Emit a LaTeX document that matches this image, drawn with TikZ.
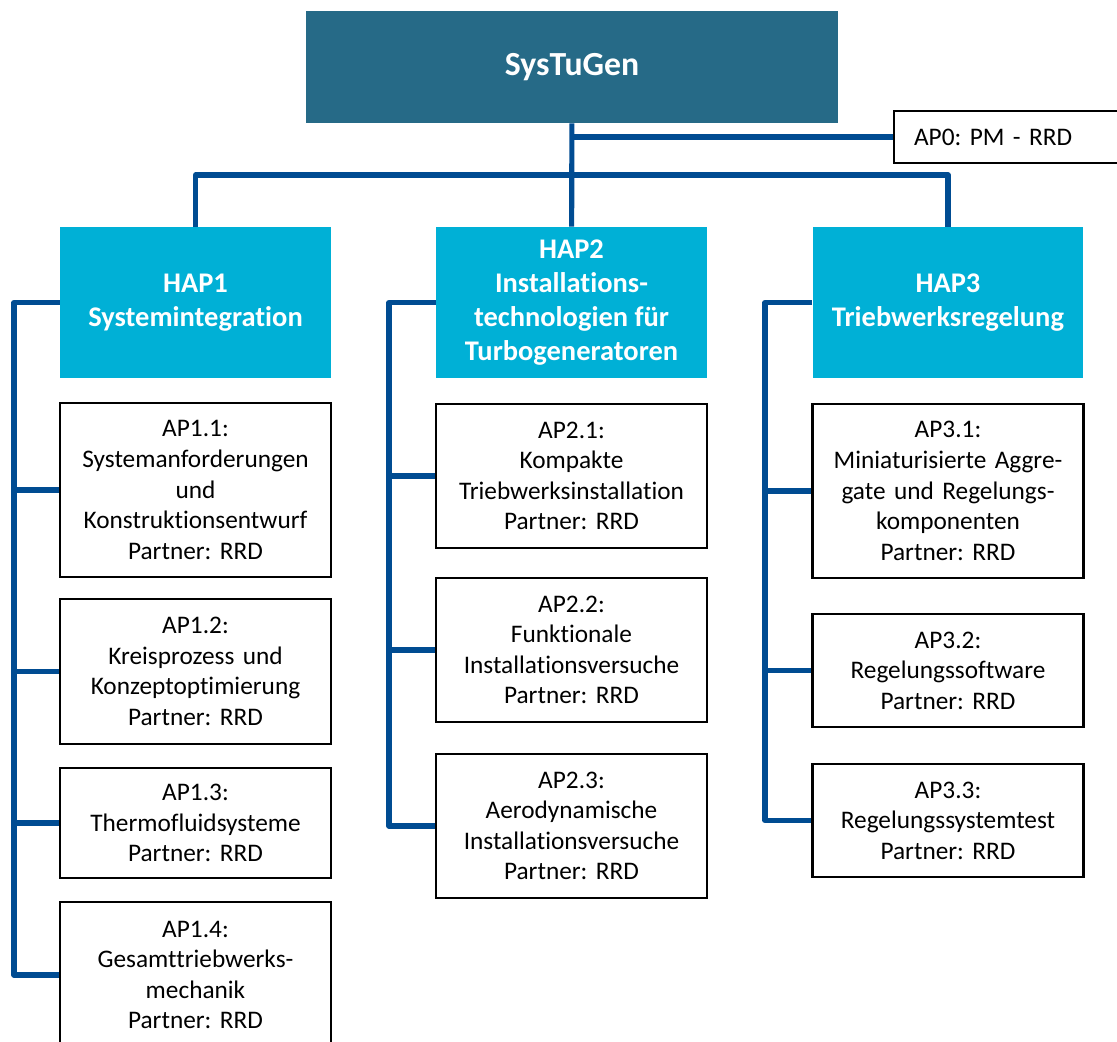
\documentclass[tikz,border=0pt]{standalone}
\usepackage{fontspec}
\setmainfont{Carlito}[Ligatures=NoCommon]
\usepackage{tikz}
\frenchspacing

\definecolor{sysdark}{RGB}{38,106,135}
\definecolor{hapcyan}{RGB}{0,176,214}
\definecolor{linkblue}{RGB}{0,76,146}

\tikzset{
	sysbox/.style={fill=sysdark, text=white, font=\bfseries\fontsize{19.2}{23}\selectfont, minimum width=10.64cm, minimum height=2.24cm},
	hapbox/.style={fill=hapcyan, text=white, font=\bfseries\fontsize{16.2}{19.2}\selectfont, align=center, minimum width=5.42cm, minimum height=3.02cm},
	apbox/.style={draw=black, line width=1.2pt, fill=white, font=\fontsize{14.4}{17.4}\selectfont, align=center, inner xsep=0.16cm, text width=5.1cm},
	link/.style={draw=linkblue, line width=2.9pt, line join=round}
}

\begin{document}
\begin{tikzpicture}[x=0.02cm, y=-0.02cm]
			\useasboundingbox (0,0) rectangle (1117,1042);
			% Nodes
			\node[sysbox] (sys) at (572,67) {SysTuGen};
			\node[apbox, anchor=west, align=left, inner xsep=0.4cm, text width=4.14cm, minimum height=1.04cm] (ap0) at (893,137) {AP0: PM - RRD};
			\node[hapbox] (hap1) at (195.5,302.5) {HAP1\\Systemintegration};
			\node[hapbox] (hap2) at (571.5,302.5) {HAP2\\Installations-\\technologien für\\Turbogeneratoren};
			\node[hapbox] (hap3) at (948,302.5) {HAP3\\Triebwerksregelung};
			% HAP1
			\node[apbox, minimum height=3.48cm] (ap11) at (195.5,490) {AP1.1:\\Systemanforderungen\\und\\Konstruktionsentwurf\\Partner: RRD};
			\node[apbox, minimum height=2.9cm] (ap12) at (195.5,671.5) {AP1.2:\\Kreisprozess und\\Konzeptoptimierung\\Partner: RRD};
			\node[apbox, minimum height=2.2cm] (ap13) at (195.5,823) {AP1.3:\\Thermofluidsysteme\\Partner: RRD};
			\node[apbox, minimum height=2.92cm] (ap14) at (195.5,975) {AP1.4:\\Gesamttriebwerks-\\mechanik\\Partner: RRD};
			% HAP2
			\node[apbox, minimum height=2.88cm] (ap21) at (571.5,476) {AP2.1:\\Kompakte\\Triebwerksinstallation\\Partner: RRD};
			\node[apbox, minimum height=2.88cm] (ap22) at (571.5,650) {AP2.2:\\Funktionale\\Installationsversuche\\Partner: RRD};
			\node[apbox, minimum height=2.88cm] (ap23) at (571.5,826) {AP2.3:\\Aerodynamische\\Installationsversuche\\Partner: RRD};
			% HAP3
			\node[apbox, minimum height=3.48cm] (ap31) at (948,491) {AP3.1:\\Miniaturisierte Aggre-\\gate und Regelungs-\\komponenten\\Partner: RRD};
			\node[apbox, minimum height=2.26cm] (ap32) at (948,670.5) {AP3.2:\\Regelungssoftware\\Partner: RRD};
			\node[apbox, minimum height=2.26cm] (ap33) at (948,820.5) {AP3.3:\\Regelungssystemtest\\Partner: RRD};
			% Connectors
			\coordinate (bar) at (572,175);
			\coordinate (sp1) at (14,302.5);
			\coordinate (sp2) at (389,302.5);
			\coordinate (sp3) at (765,302.5);
			\draw[link] (sys) -- (hap2);
			\draw[link] (ap0.west -| sys.south) -- (ap0.west);
			\draw[link] (hap1.north) |- (bar) -| (hap3.north);
			\draw[link] (hap1.west) -- (sp1) |- (ap14.west);
			\draw[link] (hap2.west) -- (sp2) |- (ap23.west);
			\draw[link] (hap3.west) -- (sp3) |- (ap33.west);
			\foreach \n in {11,12,13} {
				\draw[link] (ap\n.west) -- (ap\n.west -| sp1);
			}
			\foreach \n in {21,22} {
				\draw[link] (ap\n.west) -- (ap\n.west -| sp2);
			}
			\foreach \n in {31,32} {
				\draw[link] (ap\n.west) -- (ap\n.west -| sp3);
			}
		\end{tikzpicture}
\end{document}
